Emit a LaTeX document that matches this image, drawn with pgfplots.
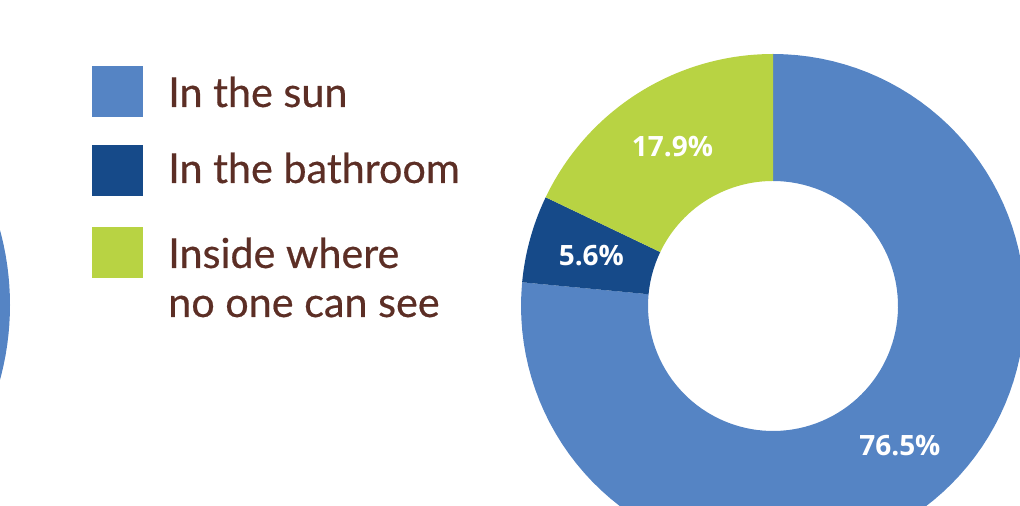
\documentclass[border=0pt]{standalone}
\usepackage{pgfplots}
\usepackage{pgfplotstable}
\pgfplotsset{compat=1.18}
\usepackage{fontspec}
\setmainfont{Lato}
\newfontfamily\legfont[FakeBold=0.5]{Lato}
\newfontfamily\labelfont{Open Sans}
\definecolor{sun}{HTML}{5584C4}
\definecolor{bath}{HTML}{164A89}
\definecolor{inside}{HTML}{B8D343}
\definecolor{txt}{HTML}{5C2E25}

\pgfplotstableread{
slice value
sun 76.5
bath 5.6
inside 17.9
}\slices
\pgfplotstablegetelem{0}{value}\of\slices \let\vA\pgfplotsretval
\pgfplotstablegetelem{1}{value}\of\slices \let\vB\pgfplotsretval
\pgfplotstablegetelem{2}{value}\of\slices \let\vC\pgfplotsretval
\pgfmathsetmacro\aZ{90}
\pgfmathsetmacro\aA{90-3.6*\vA}
\pgfmathsetmacro\aB{\aA-3.6*\vB}
\pgfmathsetmacro\aC{\aB-3.6*\vC}
\def\cx{773}\def\cy{-306}\def\Ro{252}\def\Ri{125}
% label positions (mid angle, mid radius)
\pgfmathsetmacro\lxA{\cx+188.5*cos((\aZ+\aA)/2)}\pgfmathsetmacro\lyA{\cy+188.5*sin((\aZ+\aA)/2)}
\pgfmathsetmacro\lxB{\cx+188.5*cos((\aA+\aB)/2)}\pgfmathsetmacro\lyB{\cy+188.5*sin((\aA+\aB)/2)}
\pgfmathsetmacro\lxC{\cx+188.5*cos((\aB+\aC)/2)}\pgfmathsetmacro\lyC{\cy+188.5*sin((\aB+\aC)/2)}
\newcommand\donutslice[3]{%
\addplot[fill=#1, draw=none, samples at={0,1,...,100,150,200,201,...,300}, variable=\t]
 ({\cx+ifthenelse(\t<=120,\Ro,\Ri)*cos(ifthenelse(\t<=120,(#2)+((#3)-(#2))*\t/100,(#3)+((#2)-(#3))*max(\t-200,0)/100))},
  {\cy+ifthenelse(\t<=120,\Ro,\Ri)*sin(ifthenelse(\t<=120,(#2)+((#3)-(#2))*\t/100,(#3)+((#2)-(#3))*max(\t-200,0)/100))});
}
\tikzset{lab/.style={font=\labelfont\bfseries\fontsize{21}{21}\selectfont, text=white, inner sep=0pt},
         leg/.style={anchor=base west, inner sep=0pt, text=txt, font=\legfont\fontsize{31}{31}\selectfont}}
\begin{document}
\begin{tikzpicture}
\begin{axis}[
  scale only axis, width=765pt, height=379.5pt,
  xmin=0, xmax=1020, ymin=-506, ymax=0,
  hide axis, clip=true,
]
\path (rel axis cs:0,0) rectangle (rel axis cs:1,1);
% partial donut at left edge
\addplot[fill=sun, draw=none, domain=0:360, samples=181] ({-276+286*cos(x)},{-305+286*sin(x)});
\donutslice{sun}{\aZ}{\aA}
\donutslice{bath}{\aA}{\aB}
\donutslice{inside}{\aB}{\aC}
\node[lab] at (axis cs:\lxA,\lyA) {76.5\%};
\node[lab] at (axis cs:\lxB,\lyB) {5.6\%};
\node[lab] at (axis cs:\lxC,\lyC) {17.9\%};
% legend
\fill[sun] (axis cs:92,-66) rectangle (axis cs:143,-117);
\fill[bath] (axis cs:92,-145) rectangle (axis cs:143,-196);
\fill[inside] (axis cs:92,-227) rectangle (axis cs:143,-278);
\node[leg] at (axis cs:168,-107) {In the sun};
\node[leg] at (axis cs:168,-183) {In the bathroom};
\node[leg] at (axis cs:168,-268) {Inside where};
\node[leg] at (axis cs:168,-317) {no one can see};
\end{axis}
\end{tikzpicture}
\end{document}
